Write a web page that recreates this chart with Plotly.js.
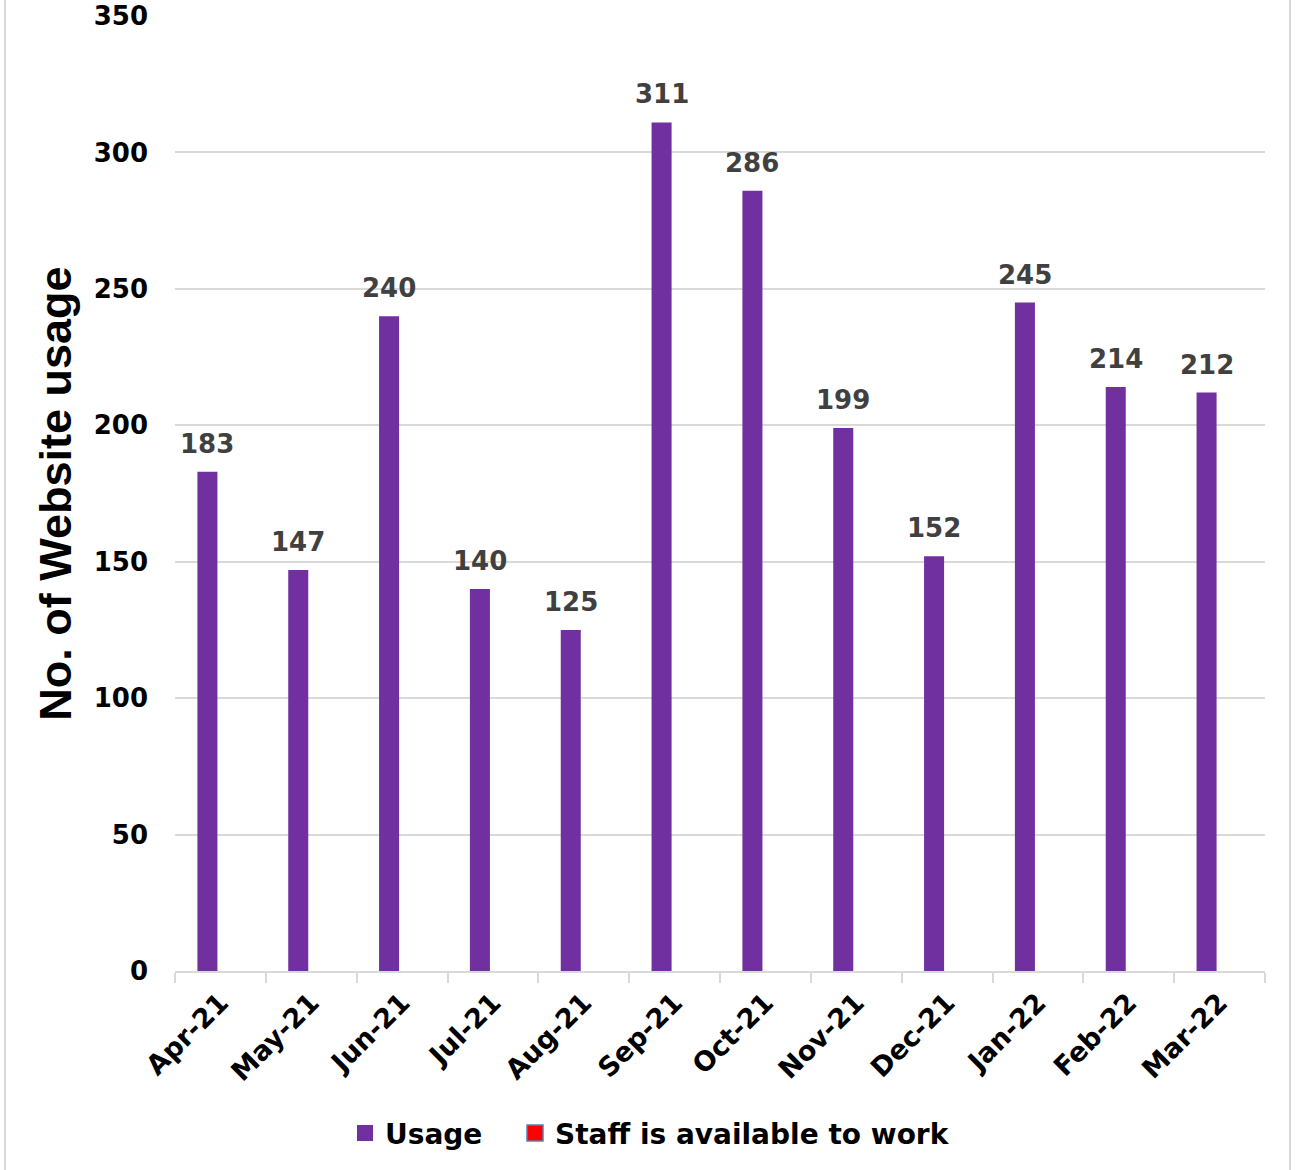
<!DOCTYPE html>
<html>
<head>
<meta charset="utf-8">
<script src="https://cdn.plot.ly/plotly-3.0.1.min.js"></script>
<style>
html,body{margin:0;padding:0;background:#fff;}
#chart{width:1295px;height:1170px;}
</style>
</head>
<body>
<div id="chart"></div>
<script>
const months = ["Apr-21","May-21","Jun-21","Jul-21","Aug-21","Sep-21","Oct-21","Nov-21","Dec-21","Jan-22","Feb-22","Mar-22"];
const usage = [183,147,240,140,125,311,286,199,152,245,214,212];
const staffAvailable = [null,null,null,null,null,null,null,null,null,null,null,null];
const yTicks = [0,50,100,150,200,250,300,350];

const FONT = "DejaVu Sans, Verdana, sans-serif";
const TITLE_FONT = "Liberation Sans, Arial, sans-serif";
const PURPLE = "#7030A0";

const traces = [
  {
    type: "bar",
    name: "Usage",
    x: months,
    y: usage,
    marker: {color: PURPLE},
    showlegend: false,
    hoverinfo: "x+y"
  },
  {
    type: "bar",
    name: "Staff is available to work",
    x: months,
    y: staffAvailable,
    marker: {color: "#FF0000", line: {color: "#5B7DB1", width: 1.5}},
    showlegend: false,
    hoverinfo: "x+y"
  },
  // legend entries (no data drawn)
  {
    type: "scatter", mode: "markers", name: "Usage",
    x: [null], y: [null], legend: "legend",
    marker: {symbol: "square", size: 16, color: PURPLE}
  },
  {
    type: "scatter", mode: "markers", name: "Staff is available to work",
    x: [null], y: [null], legend: "legend2",
    marker: {symbol: "square", size: 16, color: "#FF0000", line: {color: "#5B7DB1", width: 1.5}}
  }
];

const annotations = months.map((m, i) => ({
  x: m, y: usage[i], xref: "x", yref: "y",
  text: String(usage[i]),
  showarrow: false,
  yanchor: "bottom",
  xanchor: "center",
  xshift: -13,
  yshift: 12,
  borderpad: 0,
  font: {family: FONT, size: 26, color: "#404040", weight: "bold"}
}));

const legendFont = {family: FONT, size: 28, color: "#000", weight: "bold"};
const px2paperX = p => (p - 175) / 1090;

const layout = {
  width: 1295,
  height: 1170,
  margin: {l: 175, r: 30, t: 16, b: 199},
  paper_bgcolor: "#ffffff",
  plot_bgcolor: "#ffffff",
  barmode: "group",
  bargap: 0.4275,
  bargroupgap: 0.23,
  showlegend: true,
  font: {family: FONT, color: "#000"},
  legend: {
    orientation: "h",
    x: px2paperX(345), xanchor: "left",
    y: -0.17, yanchor: "middle",
    font: legendFont,
    itemwidth: 30
  },
  legend2: {
    orientation: "h",
    x: px2paperX(515), xanchor: "left",
    y: -0.17, yanchor: "middle",
    font: legendFont,
    itemwidth: 30
  },
  xaxis: {
    type: "category",
    tickangle: -45,
    tickfont: {family: FONT, size: 27, color: "#000", weight: "bold"},
    ticklabelstandoff: 3,
    showline: true,
    linecolor: "#d9d9d9",
    linewidth: 2,
    ticks: "outside",
    tickson: "boundaries",
    ticklen: 10,
    tickcolor: "#d9d9d9",
    tickwidth: 2,
    showgrid: false,
    zeroline: false
  },
  yaxis: {
    range: [0, 350],
    tickvals: yTicks,
    ticktext: yTicks.map(String),
    tickfont: {family: FONT, size: 26, color: "#000", weight: "bold"},
    showgrid: true,
    gridcolor: "#d9d9d9",
    gridwidth: 2,
    zeroline: false,
    showline: false,
    ticks: "",
    ticklabelstandoff: 26,
    title: {
      text: "No. of Website usage",
      font: {family: TITLE_FONT, size: 45, color: "#000", weight: "bold"},
      standoff: 7
    }
  },
  annotations: annotations,
  shapes: [
    {type: "line", xref: "paper", yref: "paper", x0: px2paperX(5), x1: px2paperX(5), y0: -199/955, y1: 1+16/955, line: {color: "#d9d9d9", width: 2}},
    {type: "line", xref: "paper", yref: "paper", x0: px2paperX(1290), x1: px2paperX(1290), y0: -199/955, y1: 1+16/955, line: {color: "#d9d9d9", width: 2}}
  ]
};

Plotly.newPlot("chart", traces, layout, {displayModeBar: false, staticPlot: true});
</script>
</body>
</html>
